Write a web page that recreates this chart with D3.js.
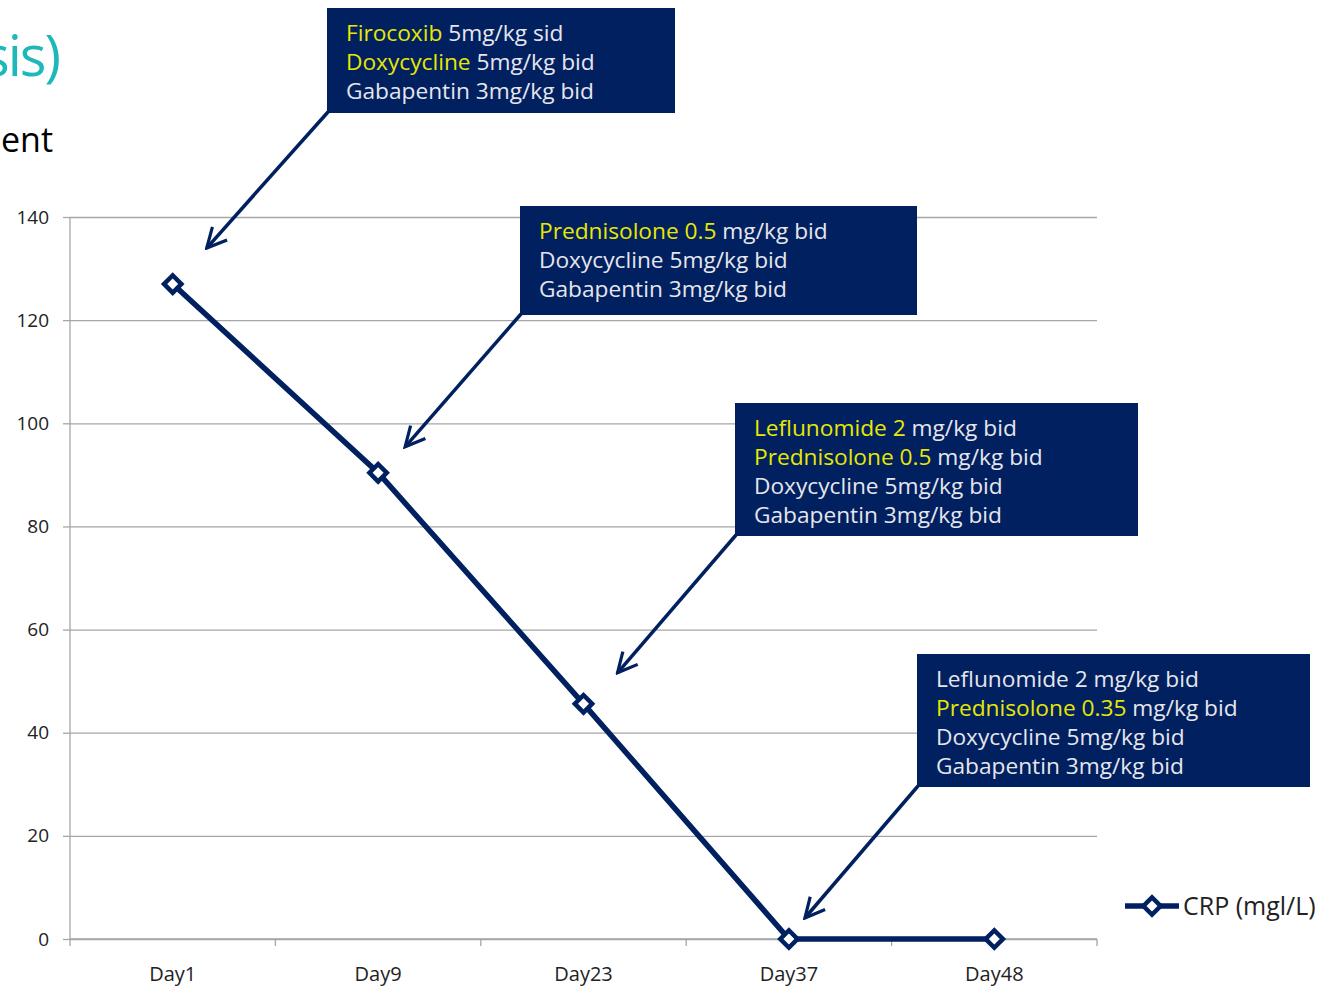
<!DOCTYPE html>
<html>
<head>
<meta charset="utf-8">
<script src="https://cdn.jsdelivr.net/npm/d3@7"></script>
<style>
  body { margin: 0; background: #fff; }
  svg { display: block; font-family: "Open Sans", "Noto Sans", sans-serif; }
</style>
</head>
<body>
<div id="chart"></div>
<script>
// data
var days = ['Day1', 'Day9', 'Day23', 'Day37', 'Day48']
var crp = [127, 90.4, 45.6, 0, 0]
var yTicks = [0, 20, 40, 60, 80, 100, 120, 140]
var seriesName = 'CRP (mgl/L)'

// treatment notes, each line = [highlighted part, rest]
var notes = [
  { day: 'Day1', lines: [['Firocoxib', ' 5mg/kg sid'], ['Doxycycline', ' 5mg/kg bid'], ['', 'Gabapentin 3mg/kg bid']] },
  { day: 'Day9', lines: [['Prednisolone 0.5', ' mg/kg bid'], ['', 'Doxycycline 5mg/kg bid'], ['', 'Gabapentin 3mg/kg bid']] },
  { day: 'Day23', lines: [['Leflunomide 2', ' mg/kg bid'], ['Prednisolone 0.5', ' mg/kg bid'], ['', 'Doxycycline 5mg/kg bid'], ['', 'Gabapentin 3mg/kg bid']] },
  { day: 'Day37', lines: [['', 'Leflunomide 2 mg/kg bid'], ['Prednisolone 0.35', ' mg/kg bid'], ['', 'Doxycycline 5mg/kg bid'], ['', 'Gabapentin 3mg/kg bid']] }
]

var W = 1324, H = 990
var margin = { top: 217, left: 70, right: 227, bottom: 51 }
var width = W - margin.left - margin.right
var height = H - margin.top - margin.bottom
var navy = '#002060'
var font = '"Open Sans", "Noto Sans", sans-serif'

var svg = d3.select('#chart').append('svg').attr('width', W).attr('height', H)

// leftover slide title pieces
svg.append('text').text('sis)').attr('x', -17).attr('y', 76)
  .attr('font-size', 56).attr('letter-spacing', -2).attr('fill', '#1fb8b8')
svg.append('text').text('ent').attr('x', 1).attr('y', 152)
  .attr('font-size', 34).attr('fill', '#000')

var g = svg.append('g').attr('transform', 'translate(' + margin.left + ',' + margin.top + ')')

var x = d3.scaleBand().domain(days).range([0, width])
var y = d3.scaleLinear().domain([0, 140]).range([height, 0])

// gridlines
g.append('g')
  .call(d3.axisLeft(y).tickValues(yTicks).tickSize(-width).tickFormat(''))
  .call(s => s.select('.domain').remove())
  .selectAll('line').attr('stroke', '#a6a6a6').attr('stroke-width', 1.3)

// y axis
var yAxis = g.append('g')
  .call(d3.axisLeft(y).tickValues(yTicks).tickSize(7).tickPadding(14))
  .attr('font-family', font)
yAxis.select('.domain').attr('stroke', '#a6a6a6').attr('stroke-width', 1.3).attr('d', 'M0,0V' + height)
yAxis.selectAll('line').attr('stroke', '#a6a6a6').attr('stroke-width', 1.3)
yAxis.selectAll('text').attr('font-size', 19).attr('fill', '#222')

// x axis with ticks on band edges
var xAxis = g.append('g').attr('transform', 'translate(0,' + height + ')')
  .call(d3.axisBottom(x).tickSize(0).tickPadding(28))
  .attr('font-family', font)
xAxis.select('.domain').attr('stroke', '#a6a6a6').attr('stroke-width', 1.3).attr('d', 'M0,0H' + width)
xAxis.selectAll('text').attr('font-size', 20).attr('fill', '#222')
xAxis.selectAll('.edge')
  .data(days.concat(['end']))
  .enter().append('line')
  .attr('x1', (d, i) => i * x.step()).attr('x2', (d, i) => i * x.step())
  .attr('y1', 0).attr('y2', 7)
  .attr('stroke', '#a6a6a6').attr('stroke-width', 1.3)

var cx = d => x(d) + x.bandwidth() / 2

// line + markers
var line = d3.line().x((d, i) => cx(days[i])).y(d => y(d))
g.append('path').datum(crp).attr('d', line)
  .attr('fill', 'none').attr('stroke', navy).attr('stroke-width', 5.5)

var diamond = d3.symbol().type(d3.symbolSquare).size(150)
g.selectAll('.pt').data(crp).enter().append('path')
  .attr('d', diamond)
  .attr('transform', (d, i) => 'translate(' + cx(days[i]) + ',' + y(d) + ') rotate(45)')
  .attr('fill', '#fff').attr('stroke', navy).attr('stroke-width', 4.5)

// annotation boxes (positions in page pixels)
var boxPos = [
  { x: 327, y: 8, w: 348, h: 105 },
  { x: 520, y: 206, w: 397, h: 109 },
  { x: 735, y: 403, w: 403, h: 133 },
  { x: 917, y: 654, w: 393, h: 133 }
]
var tipOff = [[34, -36], [27, -26], [34, -31], [16, -21]]

svg.append('defs').append('marker')
  .attr('id', 'arrow').attr('viewBox', '0 0 10 10')
  .attr('refX', 9).attr('refY', 5)
  .attr('markerWidth', 7).attr('markerHeight', 7)
  .attr('markerUnits', 'strokeWidth')
  .attr('orient', 'auto')
  .append('path').attr('d', 'M1,1L9,5L1,9')
  .attr('fill', 'none').attr('stroke', navy).attr('stroke-width', 1.3)
  .attr('stroke-linejoin', 'miter')

notes.forEach(function(n, i) {
  var b = boxPos[i]
  var k = days.indexOf(n.day)
  var tx = margin.left + cx(n.day) + tipOff[i][0]
  var ty = margin.top + y(crp[k]) + tipOff[i][1]
  svg.append('line')
    .attr('x1', b.x + 1).attr('y1', b.y + b.h - 1)
    .attr('x2', tx).attr('y2', ty)
    .attr('stroke', navy).attr('stroke-width', 3.5)
    .attr('marker-end', 'url(#arrow)')

  svg.append('rect').attr('x', b.x).attr('y', b.y).attr('width', b.w).attr('height', b.h)
    .attr('fill', navy)

  var t = svg.append('text').attr('font-size', 22.7)
  n.lines.forEach(function(l, j) {
    var ly = b.y + 33 + j * 29
    if (l[0]) {
      t.append('tspan').attr('x', b.x + 19).attr('y', ly)
        .attr('fill', '#e8e800').text(l[0])
      t.append('tspan').attr('fill', '#e6e6ec').text(l[1])
    } else {
      t.append('tspan').attr('x', b.x + 19).attr('y', ly)
        .attr('fill', '#e6e6ec').text(l[1])
    }
  })
})

// legend
var lg = svg.append('g').attr('transform', 'translate(1125,906)')
lg.append('line').attr('x1', 0).attr('x2', 54).attr('y1', 0).attr('y2', 0)
  .attr('stroke', navy).attr('stroke-width', 5.5)
lg.append('path').attr('d', diamond).attr('transform', 'translate(27,0) rotate(45)')
  .attr('fill', '#fff').attr('stroke', navy).attr('stroke-width', 4.5)
lg.append('text').text(seriesName).attr('x', 58).attr('y', 9)
  .attr('font-size', 25).attr('fill', '#222')
</script>
</body>
</html>
